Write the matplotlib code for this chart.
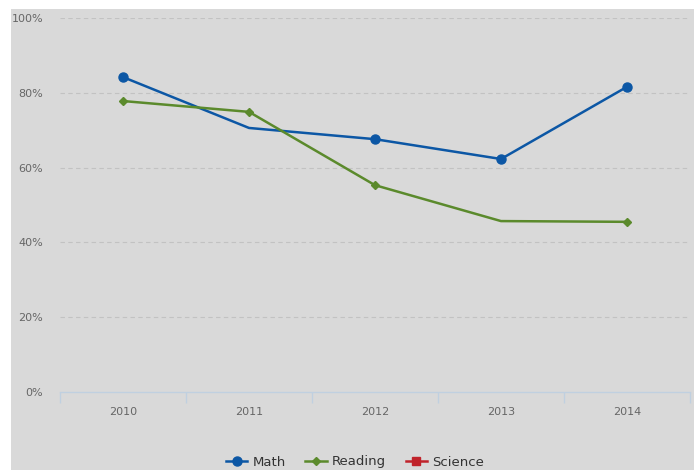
import matplotlib.pyplot as plt
import numpy as np
from matplotlib.patches import Rectangle

years = ["2010", "2011", "2012", "2013", "2014"]
math_vals = [84.2, 70.6, 67.6, 62.3, 81.6]
reading_vals = [77.8, 74.9, 55.3, 45.7, 45.5]
science_vals = []
math_markers = [0, 2, 3, 4]
reading_markers = [0, 1, 2, 4]

y_ticks = [0, 20, 40, 60, 80, 100]
y_labels = ["0%", "20%", "40%", "60%", "80%", "100%"]

blue = "#0c57a5"
green = "#5b8a2c"
red = "#c0232b"

fig = plt.figure(figsize=(6.94, 4.70), dpi=100)
fig.patch.set_facecolor("white")
fig.add_artist(Rectangle((11 / 694, 0), 1, 461 / 470, transform=fig.transFigure,
                         facecolor="#d9d9d9", edgecolor="none", zorder=-10))

ax = fig.add_axes([60 / 694, 78 / 470, 630 / 694, 374 / 470])
ax.set_facecolor("none")

x = np.arange(len(years))
ax.plot(x, math_vals, color=blue, lw=1.8, marker="o", ms=6.5,
        markevery=math_markers, solid_joinstyle="round", label="Math", zorder=3)
ax.plot(x, reading_vals, color=green, lw=1.8, marker="D", ms=4.5,
        markevery=reading_markers, solid_joinstyle="round", label="Reading", zorder=3)
ax.plot(science_vals, science_vals, color=red, lw=1.8, marker="s", ms=5.5, label="Science")

ax.set_xlim(-0.5, len(years) - 0.5)
ax.set_ylim(0, 100)

for s in ["top", "right", "left"]:
    ax.spines[s].set_visible(False)
ax.spines["bottom"].set_color("#c0d0e0")
ax.spines["bottom"].set_linewidth(1)

ax.set_yticks(y_ticks)
ax.set_yticklabels(y_labels)
ax.tick_params(axis="y", length=0, pad=12, labelsize=8, labelcolor="#666666")
for yv in y_ticks[1:]:
    ax.axhline(yv, color="#c2c2c2", lw=0.8, ls=(0, (4, 3)), zorder=1)

ax.set_xticks(x)
ax.set_xticklabels(years)
ax.tick_params(axis="x", length=0, pad=11, labelsize=8, labelcolor="#666666")
ax.set_xticks(np.arange(-0.5, len(years)), minor=True)
ax.tick_params(axis="x", which="minor", length=8, color="#c0d0e0", width=1)

fig.legend(loc="center", bbox_to_anchor=(355 / 694, 8 / 470), ncol=3, frameon=False,
           fontsize=9.5, labelcolor="#333333", handlelength=1.6, columnspacing=1.5,
           handletextpad=0.4)

fig.savefig("out.png", dpi=100)
